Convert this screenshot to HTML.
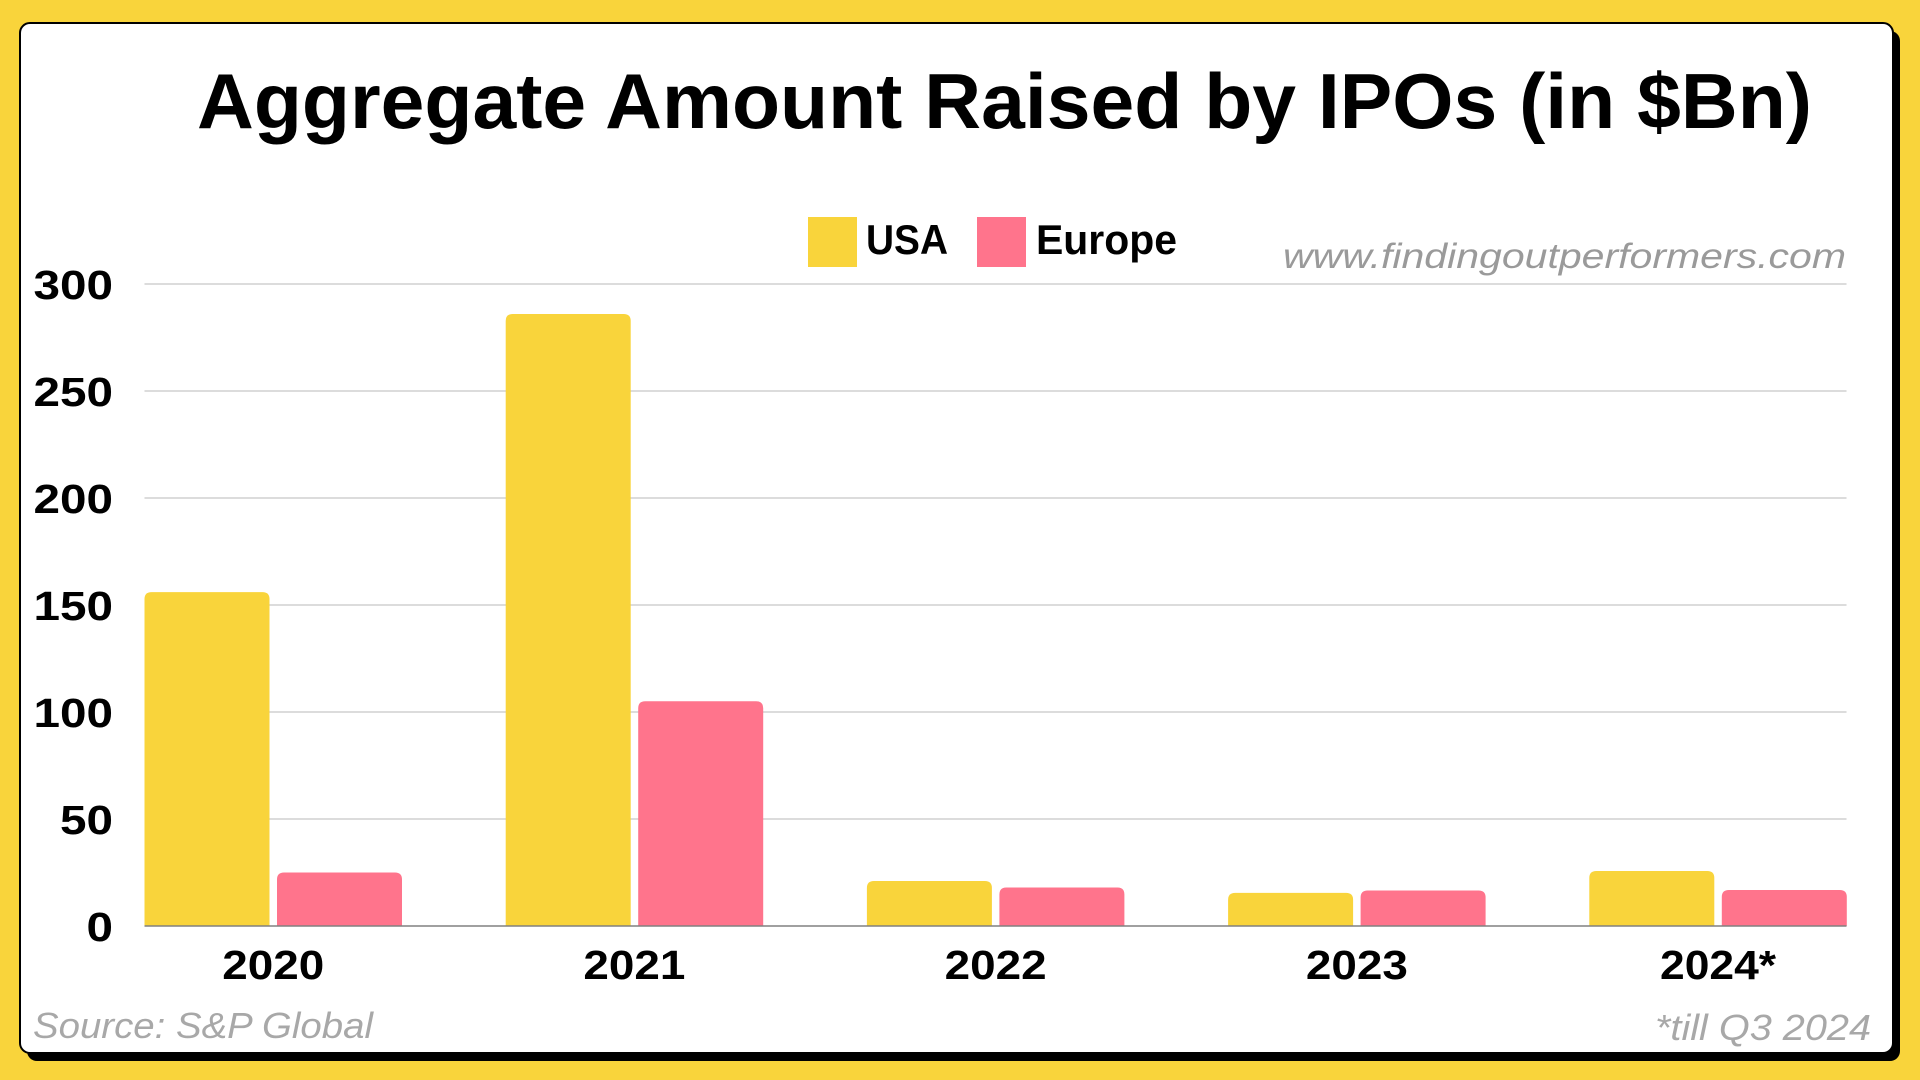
<!DOCTYPE html>
<html><head><meta charset="utf-8"><style>
html,body{margin:0;padding:0;background:#F9D43B;}
svg{display:block;font-family:"Liberation Sans",sans-serif;}
</style></head><body>
<svg width="1920" height="1080" viewBox="0 0 1920 1080" xmlns="http://www.w3.org/2000/svg" id="svg">
<rect x="0" y="0" width="1920" height="1080" fill="#F9D43B"/>
<rect x="27" y="31" width="1873" height="1030" rx="10" fill="#000"/>
<rect x="20" y="23" width="1873" height="1030" rx="10" fill="#fff" stroke="#000" stroke-width="2"/>
<text x="197" y="128" font-size="78" font-weight="bold" textLength="1615" lengthAdjust="spacingAndGlyphs">Aggregate Amount Raised by IPOs (in $Bn)</text>
<rect x="808" y="217" width="49" height="50" fill="#F9D43B"/>
<text x="866" y="254" font-size="42" font-weight="bold" textLength="82" lengthAdjust="spacingAndGlyphs">USA</text>
<rect x="977" y="217" width="49" height="50" fill="#FF748C"/>
<text x="1036" y="254" font-size="42" font-weight="bold" textLength="141" lengthAdjust="spacingAndGlyphs">Europe</text>
<text x="1846" y="268" font-size="35" font-style="italic" fill="#9a9a9a" text-anchor="end" textLength="563" lengthAdjust="spacingAndGlyphs">www.findingoutperformers.com</text>
<g id="grid"></g>
<g id="bars"></g>
<g id="labels"></g>
<text x="33" y="1038" font-size="36" font-style="italic" fill="#a8a8a8" textLength="340" lengthAdjust="spacingAndGlyphs">Source: S&amp;P Global</text>
<text x="1871" y="1040" font-size="36" font-style="italic" fill="#a8a8a8" text-anchor="end" textLength="216" lengthAdjust="spacingAndGlyphs">*till Q3 2024</text>
</svg>
<script>
const categories = ["2020","2021","2022","2023","2024*"];
const usaValues = [156, 286, 21, 15.5, 25.7];
const europeValues = [25, 105, 18, 16.6, 16.8];
const yTicks = [0, 50, 100, 150, 200, 250, 300];

const NS = "http://www.w3.org/2000/svg";
const plotLeft = 144.5, plotRight = 1846.5, baseY = 926, topY = 284, yMax = 300;
const pitch = 361.2, barW = 125, barGap = 7.5;
const y = v => baseY - (v / yMax) * (baseY - topY);
const xGroup = i => plotLeft + i * pitch;
function mk(tag, attrs, parent){const e=document.createElementNS(NS,tag);for(const k in attrs)e.setAttribute(k,attrs[k]);parent.appendChild(e);return e;}
const grid=document.getElementById('grid'), bars=document.getElementById('bars'), labels=document.getElementById('labels');

yTicks.forEach(t=>{
  if(t>0){
    const l=mk('line',{x1:plotLeft,x2:plotRight,y1:y(t),y2:y(t),stroke:'#d0d0d0','stroke-width':1.5},grid);
    
    
  }
  const s=String(t);
  const tx=mk('text',{x:113,y:y(t)+15,'font-size':41,'font-weight':'bold','text-anchor':'end',textLength:s.length*26.5,lengthAdjust:'spacingAndGlyphs'},labels);
  tx.textContent=s;
  
  
});

function barPath(x,v,w){
  const top=y(v), r=Math.min(7,(baseY-top)/2);
  return `M${x},${baseY} L${x},${top+r} Q${x},${top} ${x+r},${top} L${x+w-r},${top} Q${x+w},${top} ${x+w},${top+r} L${x+w},${baseY} Z`;
}
categories.forEach((c,i)=>{
  const x0=xGroup(i);
  const b1=mk('path',{d:barPath(x0,usaValues[i],barW),fill:'#F9D43B'},bars);
  
  
  const b2=mk('path',{d:barPath(x0+barW+barGap,europeValues[i],barW),fill:'#FF748C'},bars);
  
  
  const w = c.length===4 ? 102 : 116;
  const tx=mk('text',{x:x0+barW+barGap/2,y:979,'font-size':41,'font-weight':'bold','text-anchor':'middle',textLength:w,lengthAdjust:'spacingAndGlyphs'},labels);
  tx.textContent=c;
  
  
});
const base=mk('line',{x1:plotLeft,x2:plotRight,y1:baseY,y2:baseY,stroke:'#808080','stroke-width':1.5},bars);


</script>
</body></html>
